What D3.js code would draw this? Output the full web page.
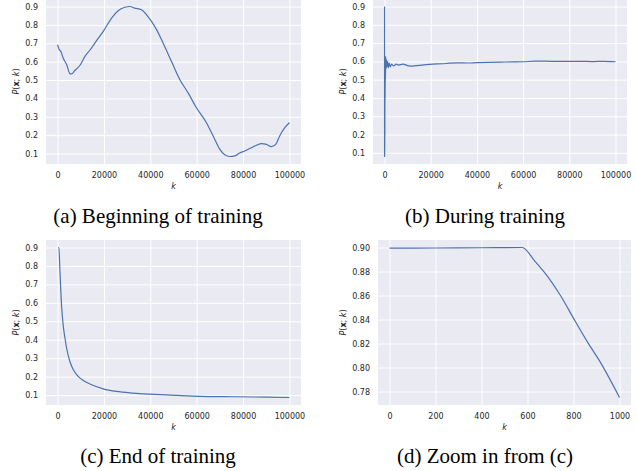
<!DOCTYPE html>
<html>
<head>
<meta charset="utf-8">
<script src="https://cdn.jsdelivr.net/npm/d3@7"></script>
<style>
  body { margin: 0; background: #fff; }
  svg { display: block; }
  .tick text { font-family: "DejaVu Sans", sans-serif; font-size: 8px; fill: #262626; }
</style>
</head>
<body>
<div id="chart"></div>
<script>
// ---- data ----
var kA = [0, 700, 1400, 2400, 3900, 5300, 6000, 7500, 9600, 11800, 13900, 16800, 19700, 23300, 26100, 29000, 31200, 33300, 36200, 38400, 40500, 42700, 45500, 49100, 52700, 56300, 59900, 64200, 67100, 70000, 72100, 74300, 76400, 78300, 80700, 83600, 85800, 87900, 90100, 92200, 94100, 95800, 98000, 100000];
var pA = [0.692, 0.665, 0.656, 0.620, 0.584, 0.535, 0.533, 0.553, 0.579, 0.629, 0.662, 0.714, 0.765, 0.837, 0.877, 0.896, 0.900, 0.891, 0.882, 0.855, 0.819, 0.774, 0.701, 0.602, 0.503, 0.430, 0.349, 0.268, 0.196, 0.123, 0.093, 0.084, 0.087, 0.102, 0.114, 0.132, 0.145, 0.154, 0.150, 0.138, 0.150, 0.196, 0.241, 0.268];

var kB = [0, 15, 30, 45, 60, 75, 90, 110, 130, 160, 200, 260, 330, 400, 500, 650, 800, 1000, 1300, 1600, 2000, 2500, 3000, 4000, 5000, 6000, 8000, 10000, 12000, 15000, 18000, 21000, 25000, 28000, 32000, 36000, 40000, 45000, 50000, 55000, 60000, 65000, 70000, 75000, 80000, 85000, 90000, 95000, 100000];
var pB = [0.900, 0.080, 0.620, 0.082, 0.600, 0.090, 0.580, 0.120, 0.560, 0.200, 0.630, 0.400, 0.620, 0.500, 0.625, 0.560, 0.610, 0.570, 0.600, 0.565, 0.590, 0.570, 0.585, 0.575, 0.585, 0.580, 0.585, 0.577, 0.574, 0.578, 0.582, 0.585, 0.587, 0.590, 0.592, 0.591, 0.593, 0.595, 0.596, 0.597, 0.598, 0.601, 0.601, 0.600, 0.600, 0.600, 0.599, 0.600, 0.598];

var kC = [300, 577, 1000, 1700, 2400, 3200, 3900, 5300, 6800, 8900, 11100, 14700, 19700, 25400, 32600, 39800, 51300, 61400, 75700, 90100, 100000];
var pC = [0.900, 0.900, 0.775, 0.588, 0.480, 0.408, 0.354, 0.282, 0.237, 0.201, 0.179, 0.156, 0.134, 0.120, 0.111, 0.105, 0.098, 0.093, 0.091, 0.089, 0.087];

var kD = [0, 200, 400, 577, 631, 688, 746, 804, 861, 919, 1000];
var pD = [0.8994, 0.8996, 0.8998, 0.9000, 0.8889, 0.8758, 0.8592, 0.8397, 0.8211, 0.8036, 0.7750];

var bigTicksX = [0, 20000, 40000, 60000, 80000, 100000];
var bigTicksY = [0.1, 0.2, 0.3, 0.4, 0.5, 0.6, 0.7, 0.8, 0.9];
var zoomTicksX = [0, 200, 400, 600, 800, 1000];
var zoomTicksY = [0.78, 0.80, 0.82, 0.84, 0.86, 0.88, 0.90];

var captions = ["(a) Beginning of training", "(b) During training", "(c) End of training", "(d) Zoom in from (c)"];

var width = 637, height = 471;
var svg = d3.select("#chart").append("svg")
    .attr("width", width)
    .attr("height", height);

// pad a data extent by 5% on each side, like matplotlib does
function padded(ext) {
    var d = (ext[1] - ext[0]) * 0.05;
    return [ext[0] - d, ext[1] + d];
}

var panels = [
    { k: kA, p: pA, box: [46, -1, 301, 164], tx: bigTicksX, ty: bigTicksY, fy: ".1f", ylab: 30, cap: captions[0], capY: 223 },
    { k: kB, p: pB, box: [373, -1, 627, 164], tx: bigTicksX, ty: bigTicksY, fy: ".1f", ylab: 30, cap: captions[1], capY: 223 },
    { k: kC, p: pC, box: [46, 240, 301, 405], tx: bigTicksX, ty: bigTicksY, fy: ".1f", ylab: 30, cap: captions[2], capY: 463 },
    { k: kD, p: pD, box: [378, 240, 631, 405], tx: zoomTicksX, ty: zoomTicksY, fy: ".2f", ylab: 35, cap: captions[3], capY: 463 }
];

panels.forEach(function(pn) {
    var x0 = pn.box[0], y0 = pn.box[1], x1 = pn.box[2], y1 = pn.box[3];
    var data = pn.k.map(function(k, i) { return [k, pn.p[i]]; });

    var x = d3.scaleLinear().domain(padded([0, d3.max(pn.k)])).range([x0, x1]);
    var y = d3.scaleLinear().domain(padded(d3.extent(pn.p))).range([y1, y0]);

    var g = svg.append("g");

    // plot background
    g.append("rect")
        .attr("x", x0).attr("y", y0)
        .attr("width", x1 - x0).attr("height", y1 - y0)
        .attr("fill", "#eaeaf2");

    // axes with white grid lines
    var xa = g.append("g")
        .attr("transform", "translate(0," + y1 + ")")
        .call(d3.axisBottom(x).tickValues(pn.tx).tickFormat(d3.format("d"))
            .tickSize(-(y1 - y0)).tickPadding(8));
    var ya = g.append("g")
        .attr("transform", "translate(" + x0 + ",0)")
        .call(d3.axisLeft(y).tickValues(pn.ty).tickFormat(d3.format(pn.fy))
            .tickSize(-(x1 - x0)).tickPadding(8));
    [xa, ya].forEach(function(a) {
        a.select(".domain").remove();
        a.selectAll(".tick line").attr("stroke", "#fff").attr("stroke-width", 1);
    });

    // the curve
    g.append("path")
        .datum(data)
        .attr("fill", "none")
        .attr("stroke", "#4c72b0")
        .attr("stroke-width", 1.2)
        .attr("stroke-linejoin", "round")
        .attr("d", d3.line().curve(d3.curveMonotoneX)
            .x(function(d) { return x(d[0]); }).y(function(d) { return y(d[1]); }));

    // axis labels
    g.append("text")
        .attr("x", (x0 + x1) / 2)
        .attr("y", y1 + 25)
        .attr("text-anchor", "middle")
        .style("font-family", "DejaVu Sans, sans-serif")
        .style("font-size", "8px")
        .style("font-style", "italic")
        .attr("fill", "#262626")
        .text("k");

    var yl = g.append("text")
        .attr("transform", "translate(" + (x0 - pn.ylab + 3) + "," + ((y0 + y1) / 2) + ") rotate(-90)")
        .attr("text-anchor", "middle")
        .style("font-family", "DejaVu Sans, sans-serif")
        .style("font-size", "8px")
        .attr("fill", "#262626");
    yl.append("tspan").style("font-style", "italic").text("P");
    yl.append("tspan").text("(");
    yl.append("tspan").style("font-weight", "bold").text("x");
    yl.append("tspan").text("; ");
    yl.append("tspan").style("font-style", "italic").text("k");
    yl.append("tspan").text(")");

    // caption
    g.append("text")
        .attr("x", pn.box[0] < 200 ? 158 : 485)
        .attr("y", pn.capY)
        .attr("text-anchor", "middle")
        .style("font-family", "Liberation Serif, Times New Roman, serif")
        .style("font-size", "21px")
        .attr("fill", "#000")
        .text(pn.cap);
});
</script>
</body>
</html>
